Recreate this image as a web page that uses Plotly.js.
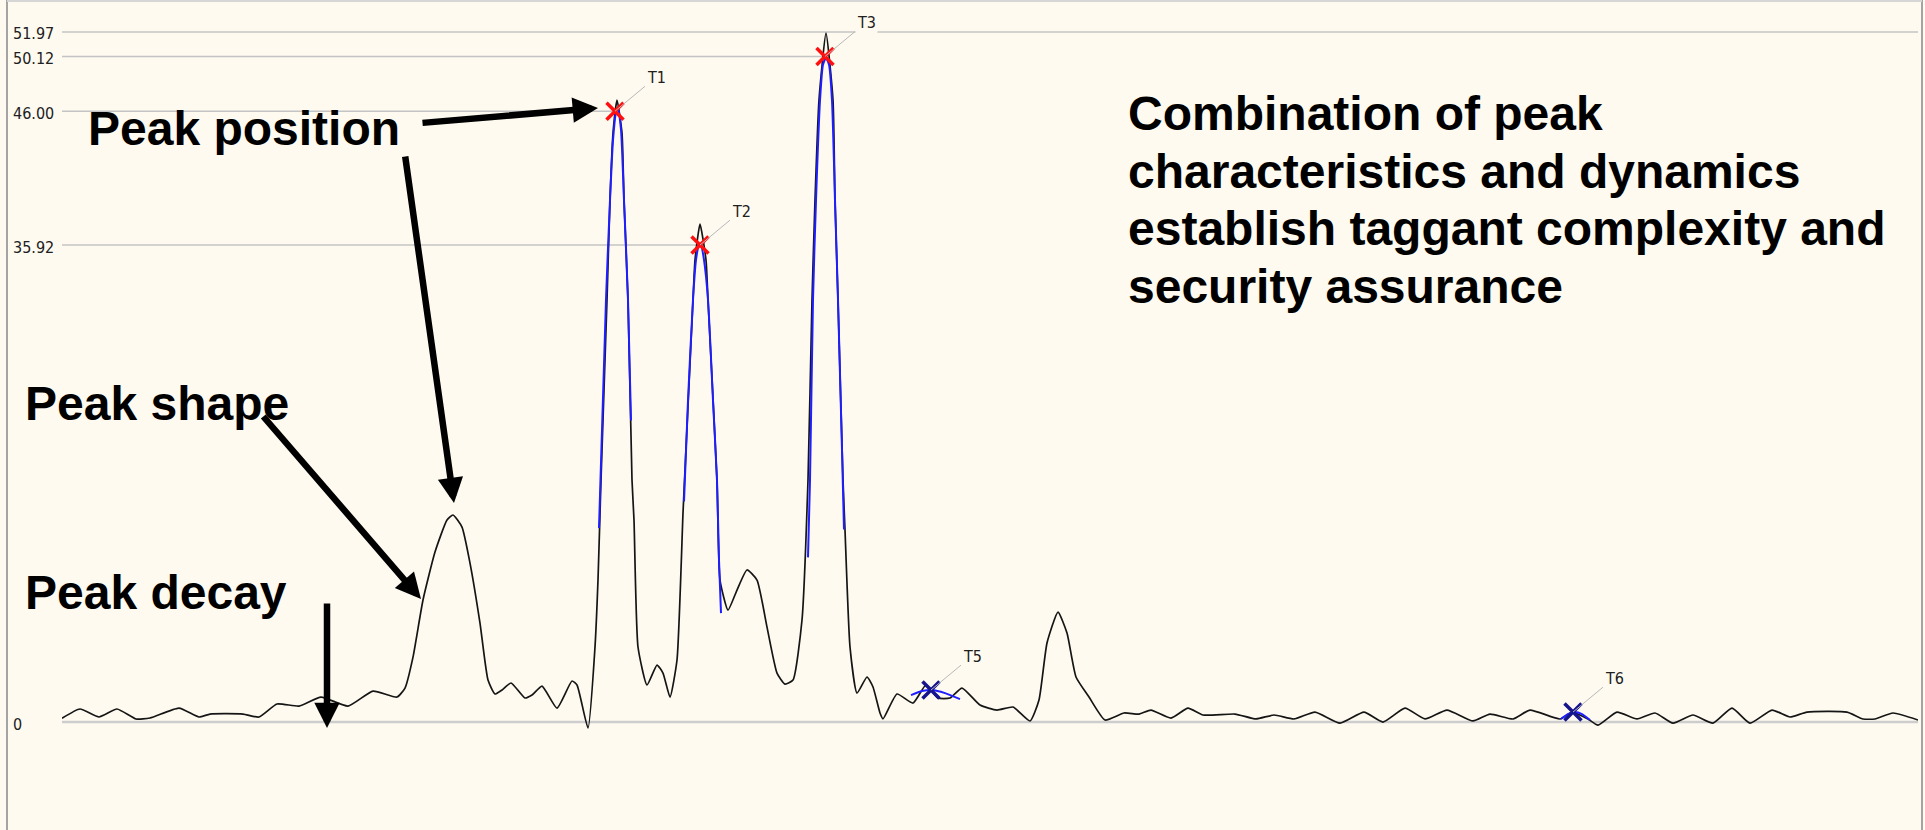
<!DOCTYPE html>
<html><head><meta charset="utf-8">
<script src="https://cdn.plot.ly/plotly-3.0.1.min.js"></script>
<style>html,body{margin:0;padding:0;background:#FEFAF0;}#chart{width:1925px;height:830px;}</style>
</head><body><div id="chart"></div>
<script>
// ---- data ----
const signalX = [0,18,37,55,74,88,117,137,148,181,197,215,237,259,286,311,335,343,351,361,373,385,391,400,408,418,426,433,440,449,463,470,480,495,510,515,526,533,536,539,545,548,551,555,560,562,566,570,572,576,585,595,601,608,615,621,623,631,633,638,644,646,655,658,666,675,685,695,705,715,723,731,740,746,750,753,757,764,771,773,776,781,783,788,795,805,811,818,821,835,851,864,876,888,900,918,935,951,968,977,985,996,1005,1014,1027,1043,1062,1077,1089,1109,1126,1141,1173,1194,1212,1232,1253,1278,1302,1321,1343,1363,1385,1411,1428,1451,1468,1498,1510,1526,1536,1555,1575,1593,1611,1631,1651,1670,1688,1710,1728,1745,1785,1801,1813,1831,1856];
const signalY = [0.28,0.98,0.38,0.98,0.23,0.30,1.05,0.38,0.60,0.60,0.38,1.36,1.20,1.88,1.20,2.33,1.88,2.56,4.89,9.19,12.80,15.21,15.59,14.68,11.97,7.45,3.16,2.11,2.41,2.94,1.81,2.03,2.71,1.05,3.09,2.79,-0.45,5.65,10.69,18.22,31.78,39.31,44.35,46.84,44.35,39.31,31.78,18.22,15.21,5.65,2.79,4.29,3.69,1.88,4.67,15.74,18.98,31.78,34.79,37.50,34.79,31.78,18.22,10.69,8.43,9.94,11.45,10.69,7.15,3.69,2.86,3.16,7.68,18.22,31.78,39.31,46.84,51.88,46.84,39.31,31.78,18.22,14.46,5.65,2.18,3.39,2.64,0.68,0.23,2.11,1.43,2.79,1.81,1.81,2.56,1.28,0.90,1.13,0.08,1.66,5.95,8.28,6.70,3.39,1.88,0.15,0.68,0.60,0.90,0.30,1.05,0.53,0.60,0.23,0.53,0.23,0.75,-0.08,0.75,0.00,1.05,0.23,0.90,0.08,0.60,0.23,0.90,0.23,0.75,0.23,-0.23,0.75,0.23,0.68,-0.08,0.53,-0.08,1.05,-0.08,0.90,0.38,0.75,0.75,0.23,0.23,0.68,0.15];

const fitT1X = [537,544,548,551,554,556,559,562,566,569];
const fitT1Y = [14.6,31.8,39.3,43.8,45.9,46.2,44.6,39.3,31.8,22.7];
const fitT2X = [622,626,631,634,637,639,642,646,651,655,657,659];
const fitT2Y = [16.6,24.2,31.8,34.8,35.9,35.9,34.8,31.8,24.2,18.2,12.2,8.2];
const fitT3X = [746,748,751,754,758,761,764,767,770,773,776,780,782];
const fitT3Y = [12.4,18.2,31.8,39.3,46.8,49.5,50.0,49.5,46.8,39.3,31.8,20.5,14.5];
const fitT5X = [849,860,870,883,898];
const fitT5Y = [2.03,2.33,2.41,2.18,1.73];
const fitT6X = [1499,1506,1513,1520,1528];
const fitT6Y = [0.23,0.60,0.75,0.60,0.15];

const mainPeakNames = ['T1','T2','T3'];
const mainPeakX = [553,638,763];
const mainPeakY = [46.00,35.92,50.12];
const minorPeakNames = ['T5','T6'];
const minorPeakX = [869,1511];
const minorPeakY = [2.41,0.75];

const tickVals = [0,35.92,46.00,50.12,51.97];
const tickText = ['0','35.92','46.00','50.12','51.97'];
const maxLevel = 51.97;

const calloutTexts = ['Peak position','Peak shape','Peak decay'];
const noteLines = ['Combination of peak','characteristics and dynamics','establish taggant complexity and','security assurance'];

// ---- layout helpers (pixel geometry of the frame) ----
const W = 1925, H = 830;
const M = {l:62, r:7, t:2, b:2};
const X_RANGE = [0, 1856];
const Y_RANGE = [-7.98, 54.22];
const pxPerX = (W - M.l - M.r) / (X_RANGE[1]-X_RANGE[0]);
const pxPerY = (H - M.t - M.b) / (Y_RANGE[1]-Y_RANGE[0]);
const dx = px => X_RANGE[0] + (px - M.l) / pxPerX;
const dy = py => Y_RANGE[1] - (py - M.t) / pxPerY;
const paperX = px => (px - M.l) / (W - M.l - M.r);
const paperY = py => 1 - (py - M.t) / (H - M.t - M.b);

const BG = '#FEFAF0';
const traces = [];
traces.push({x: signalX, y: signalY, mode:'lines', line:{color:'#151515', width:1.7, shape:'spline', smoothing:0.5}, hoverinfo:'skip'});
[[fitT1X,fitT1Y],[fitT2X,fitT2Y],[fitT3X,fitT3Y],[fitT5X,fitT5Y],[fitT6X,fitT6Y]].forEach(f=>{
  traces.push({x:f[0], y:f[1], mode:'lines', line:{color:'#1E1EFF', width:2, shape:'spline', smoothing:0.6}, hoverinfo:'skip'});
});
traces.push({x: mainPeakX, y: mainPeakY, mode:'markers', marker:{symbol:'x-thin-open', size:17, color:'#FF1010', line:{color:'#FF1010', width:3.5}}, hoverinfo:'skip'});
traces.push({x: minorPeakX, y: minorPeakY, mode:'markers', marker:{symbol:'x-thin-open', size:17, color:'#14148C', line:{color:'#14148C', width:3.5}}, hoverinfo:'skip'});

const shapes = [];
shapes.push({type:'line', xref:'x', yref:'y', x0:signalX[0], x1:signalX[signalX.length-1], y0:0, y1:0, line:{color:'#CDCDCD', width:2.5}, layer:'below'});
shapes.push({type:'line', xref:'paper', yref:'y', x0:0, x1:1, y0:maxLevel, y1:maxLevel, line:{color:'#C4C4C4', width:1.5}, layer:'below'});
mainPeakX.forEach((px,i)=>{
  shapes.push({type:'line', xref:'x', yref:'y', x0:X_RANGE[0], x1:px, y0:mainPeakY[i], y1:mainPeakY[i], line:{color:'#C4C4C4', width:1.5}, layer:'below'});
});
shapes.push({type:'line', xref:'paper', yref:'paper', x0:paperX(7), x1:paperX(7), y0:paperY(0), y1:paperY(H), line:{color:'#A4A4A4', width:2}});
shapes.push({type:'line', xref:'paper', yref:'paper', x0:paperX(1922), x1:paperX(1922), y0:paperY(0), y1:paperY(H), line:{color:'#A4A4A4', width:2}});
shapes.push({type:'line', xref:'paper', yref:'paper', x0:paperX(7), x1:paperX(1922), y0:paperY(1), y1:paperY(1), line:{color:'#D6D6D6', width:2}});

const annotations = [];
const smallFont = {family:'DejaVu Sans Condensed, DejaVu Sans, sans-serif', size:16, color:'#202020'};
tickVals.forEach((v,i)=>{
  annotations.push({xref:'paper', yref:'y', x:paperX(11), y:v, xanchor:'left', yanchor:'middle', yshift:-2, text:tickText[i], showarrow:false, font:smallFont});
});
const allNames = mainPeakNames.concat(minorPeakNames);
const allX = mainPeakX.concat(minorPeakX);
const allY = mainPeakY.concat(minorPeakY);
allNames.forEach((n,i)=>{
  annotations.push({xref:'x', yref:'y', x:allX[i], y:allY[i], text:n, showarrow:true, arrowhead:0, arrowwidth:1, arrowcolor:'#B8B8B8', ax:41, ay:-34, font:smallFont, bgcolor:BG, borderpad:1});
});
const bigFont = {family:'Liberation Sans, Arial, sans-serif', size:48, color:'#000000'};
const calloutPos = [[86,129],[23,403],[23,592]];
calloutTexts.forEach((t,i)=>{
  annotations.push({xref:'paper', yref:'paper', x:paperX(calloutPos[i][0]), y:paperY(calloutPos[i][1]), xanchor:'left', yanchor:'middle', text:'<b>'+t+'</b>', showarrow:false, font:bigFont});
});
noteLines.forEach((t,i)=>{
  annotations.push({xref:'paper', yref:'paper', x:paperX(1126), y:paperY(113.5 + i*57.7), xanchor:'left', yanchor:'middle', text:'<b>'+t+'</b>', showarrow:false, font:bigFont});
});
const arrows = [[421,123,598,108],[405,155,454,503],[262,415,421,599],[327,602,327,728]];
arrows.forEach(a=>{
  annotations.push({xref:'x', yref:'y', axref:'x', ayref:'y', x:dx(a[2]), y:dy(a[3]), ax:dx(a[0]), ay:dy(a[1]), text:'', showarrow:true, arrowhead:2, arrowsize:0.78, arrowwidth:6.5, arrowcolor:'#000000'});
});

const layout = {
  width:W, height:H, margin:M,
  paper_bgcolor:BG, plot_bgcolor:BG,
  showlegend:false,
  xaxis:{range:X_RANGE, visible:false, fixedrange:true},
  yaxis:{range:Y_RANGE, visible:false, fixedrange:true},
  shapes:shapes, annotations:annotations
};
Plotly.newPlot('chart', traces, layout, {staticPlot:true, displayModeBar:false});
</script></body></html>
